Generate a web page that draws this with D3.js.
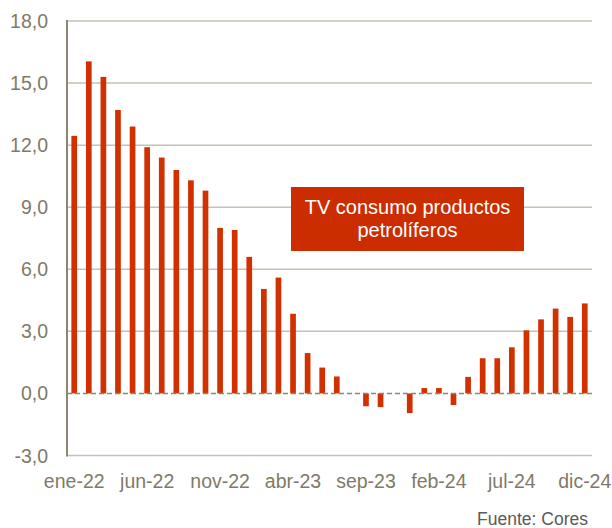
<!DOCTYPE html>
<html>
<head>
<meta charset="utf-8">
<script src="https://cdn.jsdelivr.net/npm/d3@7"></script>
<style>
  body { margin: 0; background: #fff; }
  text { font-family: "Liberation Sans", Arial, sans-serif; }
</style>
</head>
<body>
<script>
var w = 612;
var h = 528;

var months = ["ene-22", "feb-22", "mar-22", "abr-22", "may-22", "jun-22", "jul-22", "ago-22", "sep-22", "oct-22", "nov-22", "dic-22",
    "ene-23", "feb-23", "mar-23", "abr-23", "may-23", "jun-23", "jul-23", "ago-23", "sep-23", "oct-23", "nov-23", "dic-23",
    "ene-24", "feb-24", "mar-24", "abr-24", "may-24", "jun-24", "jul-24", "ago-24", "sep-24", "oct-24", "nov-24", "dic-24"];
var values = [12.45, 16.05, 15.3, 13.7, 12.9, 11.9, 11.4, 10.8, 10.3, 9.8, 8.0, 7.9,
    6.6, 5.05, 5.6, 3.85, 1.95, 1.25, 0.82, 0.0, -0.62, -0.66, 0.0, -0.95,
    0.26, 0.26, -0.56, 0.8, 1.7, 1.7, 2.23, 3.05, 3.58, 4.1, 3.7, 4.35];
var yTicks = [-3, 0, 3, 6, 9, 12, 15, 18];
var xLabels = ["ene-22", "jun-22", "nov-22", "abr-23", "sep-23", "feb-24", "jul-24", "dic-24"];

var plotLeft = 67, plotRight = 592, plotTop = 21, plotBottom = 455.5;
var grey = "#7f7a68";

var x = d3.scaleBand().domain(months).range([plotLeft, plotRight]).paddingInner(0.61).paddingOuter(0.3);
var y = d3.scaleLinear().domain([-3, 18]).range([plotBottom, plotTop]);

var svg = d3.select("body").append("svg")
    .attr("width", w)
    .attr("height", h);

// grid
svg.append("g")
    .selectAll("line")
    .data(yTicks.filter(function (d) { return d !== 0; }))
    .enter()
    .append("line")
    .attr("x1", plotLeft)
    .attr("x2", plotRight)
    .attr("y1", function (d) { return y(d); })
    .attr("y2", function (d) { return y(d); })
    .attr("stroke", "#c6c1b3")
    .attr("stroke-width", 1.5);

// bars
svg.append("g")
    .selectAll("rect")
    .data(values)
    .enter()
    .append("rect")
    .attr("x", function (d, i) { return x(months[i]); })
    .attr("width", x.bandwidth())
    .attr("y", function (d) { return y(Math.max(0, d)); })
    .attr("height", function (d) { return Math.abs(y(d) - y(0)); })
    .attr("fill", "#d13000");

// zero line
svg.append("line")
    .attr("x1", plotLeft)
    .attr("x2", plotRight)
    .attr("y1", y(0))
    .attr("y2", y(0))
    .attr("stroke", "#8a8676")
    .attr("stroke-width", 1.5)
    .attr("stroke-dasharray", "5,3");

// y axis line
svg.append("line")
    .attr("x1", plotLeft)
    .attr("x2", plotLeft)
    .attr("y1", plotTop - 1)
    .attr("y2", plotBottom + 1)
    .attr("stroke", "#8c8672")
    .attr("stroke-width", 2);

// y labels
svg.append("g")
    .selectAll("text")
    .data(yTicks)
    .enter()
    .append("text")
    .attr("x", 48)
    .attr("y", function (d) { return y(d); })
    .attr("dy", "0.36em")
    .attr("text-anchor", "end")
    .attr("font-size", "19.5px")
    .attr("fill", grey)
    .text(function (d) { return d.toFixed(1).replace(".", ","); });

// x labels
svg.append("g")
    .selectAll("text")
    .data(xLabels)
    .enter()
    .append("text")
    .attr("x", function (d) { return x(d) + x.bandwidth() / 2; })
    .attr("y", 488)
    .attr("text-anchor", "middle")
    .attr("font-size", "19.5px")
    .attr("fill", grey)
    .text(function (d) { return d; });

// label box
svg.append("rect")
    .attr("x", 291)
    .attr("y", 187)
    .attr("width", 233)
    .attr("height", 64)
    .attr("fill", "#cc2d00");

svg.append("text")
    .attr("x", 407.5)
    .attr("y", 213.5)
    .attr("text-anchor", "middle")
    .attr("font-size", "20px")
    .attr("fill", "#fff")
    .text("TV consumo productos");

svg.append("text")
    .attr("x", 407.5)
    .attr("y", 237)
    .attr("text-anchor", "middle")
    .attr("font-size", "20px")
    .attr("fill", "#fff")
    .text("petrolíferos");

// source
svg.append("text")
    .attr("x", 588)
    .attr("y", 525)
    .attr("text-anchor", "end")
    .attr("font-size", "17.5px")
    .attr("fill", "#5a5a5a")
    .text("Fuente: Cores");
</script>
</body>
</html>
